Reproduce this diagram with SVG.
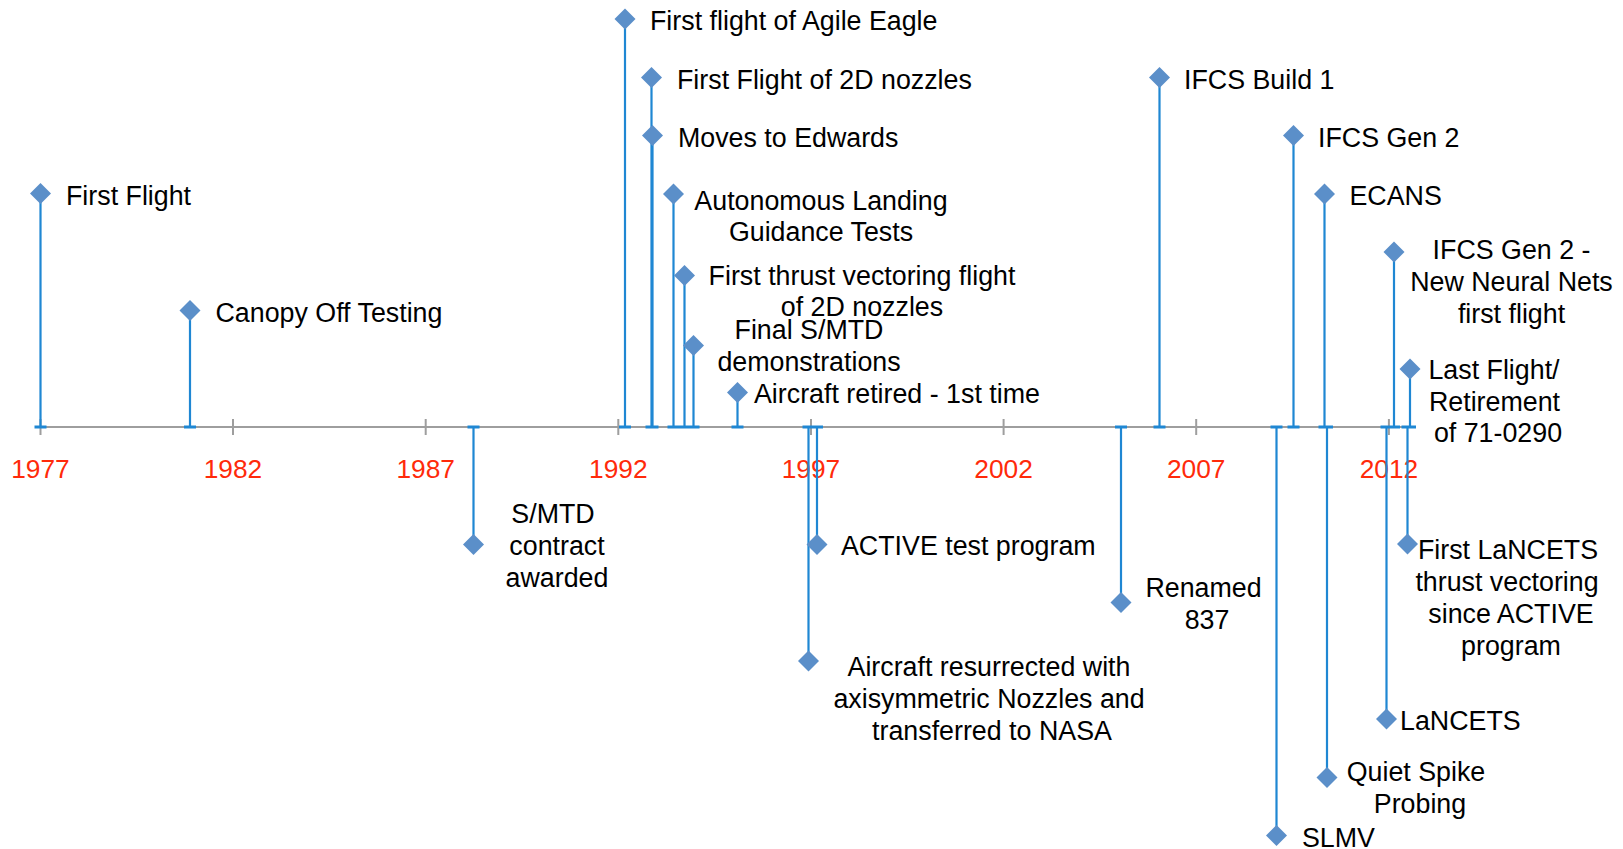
<svg xmlns="http://www.w3.org/2000/svg" xmlns:xlink="http://www.w3.org/1999/xlink" width="1623" height="849" viewBox="0 0 1623 849">
<style>
text{font-family:"Liberation Sans",Arial,sans-serif;font-size:26.8px;fill:#000}
.yr{fill:#ff2a0a;text-anchor:middle;font-size:26.3px}
.m{text-anchor:middle}
.ax{stroke:#9e9e9e;stroke-width:2;fill:none}
.cn{stroke:#1f87d3;stroke-width:2.2;fill:none}
.cap{stroke:#1f87d3;stroke-width:3;fill:none}
.dm{fill:#5b8fc9}
</style>
<defs>
<path id="d" class="dm" d="M0,-10.5 L10.5,0 L0,10.5 L-10.5,0Z"/>
</defs>
<rect width="1623" height="849" fill="#fff"/>
<g id="axis">
<line class="ax" x1="35" y1="427" x2="1416" y2="427"/>
<path class="ax" d="M40.5,419V435M233,419V435M425.7,419V435M618.3,419V435M811,419V435M1003.6,419V435M1196.2,419V435M1388.9,419V435"/>
<text class="yr" x="40.5" y="477.5">1977</text>
<text class="yr" x="233" y="477.5">1982</text>
<text class="yr" x="425.7" y="477.5">1987</text>
<text class="yr" x="618.3" y="477.5">1992</text>
<text class="yr" x="811" y="477.5">1997</text>
<text class="yr" x="1003.6" y="477.5">2002</text>
<text class="yr" x="1196.2" y="477.5">2007</text>
<text class="yr" x="1388.9" y="477.5">2012</text>
</g>
<g id="connectors">
<path class="cn" d="M40.5,193V427M190,310V427M625,19V427M651.5,77V427M652.5,135V427M673.5,194V427M684.5,275V427M693.5,345V427M737.5,392V427M1159.5,77V427M1293.5,135V427M1324.5,194V427M1394,252V427M1410,369V427"/>
<path class="cn" d="M473.5,427V544M817,427V544M808.5,427V661M1121,427V602M1276.5,427V835M1327,427V777M1386.5,427V719M1407.5,427V544"/>
<path class="cap" d="M34.5,427h12M184,427h12M619,427h12M645.5,427h12M646.5,427h12M667.5,427h12M678.5,427h12M687.5,427h12M731.5,427h12M1153.5,427h12M1287.5,427h12M1318.5,427h12M1388,427h12M1404,427h12M467.5,427h12M811,427h12M802.5,427h12M1115,427h12M1270.5,427h12M1321,427h12M1380.5,427h12M1401.5,427h12"/>
</g>
<g id="n1"><use xlink:href="#d" x="40.5" y="193.5"/><text x="66" y="205">First Flight</text></g>
<g id="n2"><use xlink:href="#d" x="190" y="310.5"/><text x="215.5" y="321.5">Canopy Off Testing</text></g>
<g id="n3"><use xlink:href="#d" x="625" y="19"/><text x="650" y="29.5">First flight of Agile Eagle</text></g>
<g id="n4"><use xlink:href="#d" x="651.5" y="77.5"/><text x="677" y="88.5">First Flight of 2D nozzles</text></g>
<g id="n5"><use xlink:href="#d" x="652.5" y="135.5"/><text x="678" y="146.5">Moves to Edwards</text></g>
<g id="n6"><use xlink:href="#d" x="673.5" y="194"/><text class="m" x="821" y="209.5">Autonomous Landing</text><text class="m" x="821" y="240.5">Guidance Tests</text></g>
<g id="n7"><use xlink:href="#d" x="684.5" y="275.5"/><text class="m" x="862" y="285">First thrust vectoring flight</text><text class="m" x="862" y="316">of 2D nozzles</text></g>
<g id="n8"><use xlink:href="#d" x="693.5" y="345.5"/><text class="m" x="809" y="339">Final S/MTD</text><text class="m" x="809" y="370.5">demonstrations</text></g>
<g id="n9"><use xlink:href="#d" x="737.5" y="392.5"/><text x="754" y="402.5">Aircraft retired - 1st time</text></g>
<g id="n10"><use xlink:href="#d" x="1159.5" y="77.5"/><text x="1184" y="88.5">IFCS Build 1</text></g>
<g id="n11"><use xlink:href="#d" x="1293.5" y="135.5"/><text x="1318" y="146.5">IFCS Gen 2</text></g>
<g id="n12"><use xlink:href="#d" x="1324.5" y="194"/><text x="1349.5" y="205">ECANS</text></g>
<g id="n13"><use xlink:href="#d" x="1394" y="252"/><text class="m" x="1511.5" y="259">IFCS Gen 2 -</text><text class="m" x="1511.5" y="290.5">New Neural Nets</text><text class="m" x="1511.5" y="322.5">first flight</text></g>
<g id="n14"><use xlink:href="#d" x="1410" y="369"/><text class="m" x="1494" y="379">Last Flight/</text><text class="m" x="1494.5" y="410.5">Retirement</text><text class="m" x="1498" y="441.5">of 71-0290</text></g>
<g id="n15"><use xlink:href="#d" x="473.5" y="544.5"/><text class="m" x="553" y="522.5">S/MTD</text><text class="m" x="557" y="554.5">contract</text><text class="m" x="557" y="586.5">awarded</text></g>
<g id="n16"><use xlink:href="#d" x="817" y="544.5"/><text x="841" y="554.5">ACTIVE test program</text></g>
<g id="n17"><use xlink:href="#d" x="808.5" y="661"/><text class="m" x="989" y="676">Aircraft resurrected with</text><text class="m" x="989" y="708">axisymmetric Nozzles and</text><text class="m" x="992" y="740">transferred to NASA</text></g>
<g id="n18"><use xlink:href="#d" x="1121" y="602.5"/><text class="m" x="1203.5" y="597">Renamed</text><text class="m" x="1207" y="628.5">837</text></g>
<g id="n19"><use xlink:href="#d" x="1276.5" y="835.5"/><text x="1302" y="847">SLMV</text></g>
<g id="n20"><use xlink:href="#d" x="1327" y="777.5"/><text class="m" x="1416" y="781">Quiet Spike</text><text class="m" x="1420" y="813">Probing</text></g>
<g id="n21"><use xlink:href="#d" x="1386.5" y="719"/><text x="1400" y="730">LaNCETS</text></g>
<g id="n22"><use xlink:href="#d" x="1407.5" y="544"/><text class="m" x="1508" y="558.5">First LaNCETS</text><text class="m" x="1507" y="591">thrust vectoring</text><text class="m" x="1511" y="623">since ACTIVE</text><text class="m" x="1511" y="655">program</text></g>
</svg>
